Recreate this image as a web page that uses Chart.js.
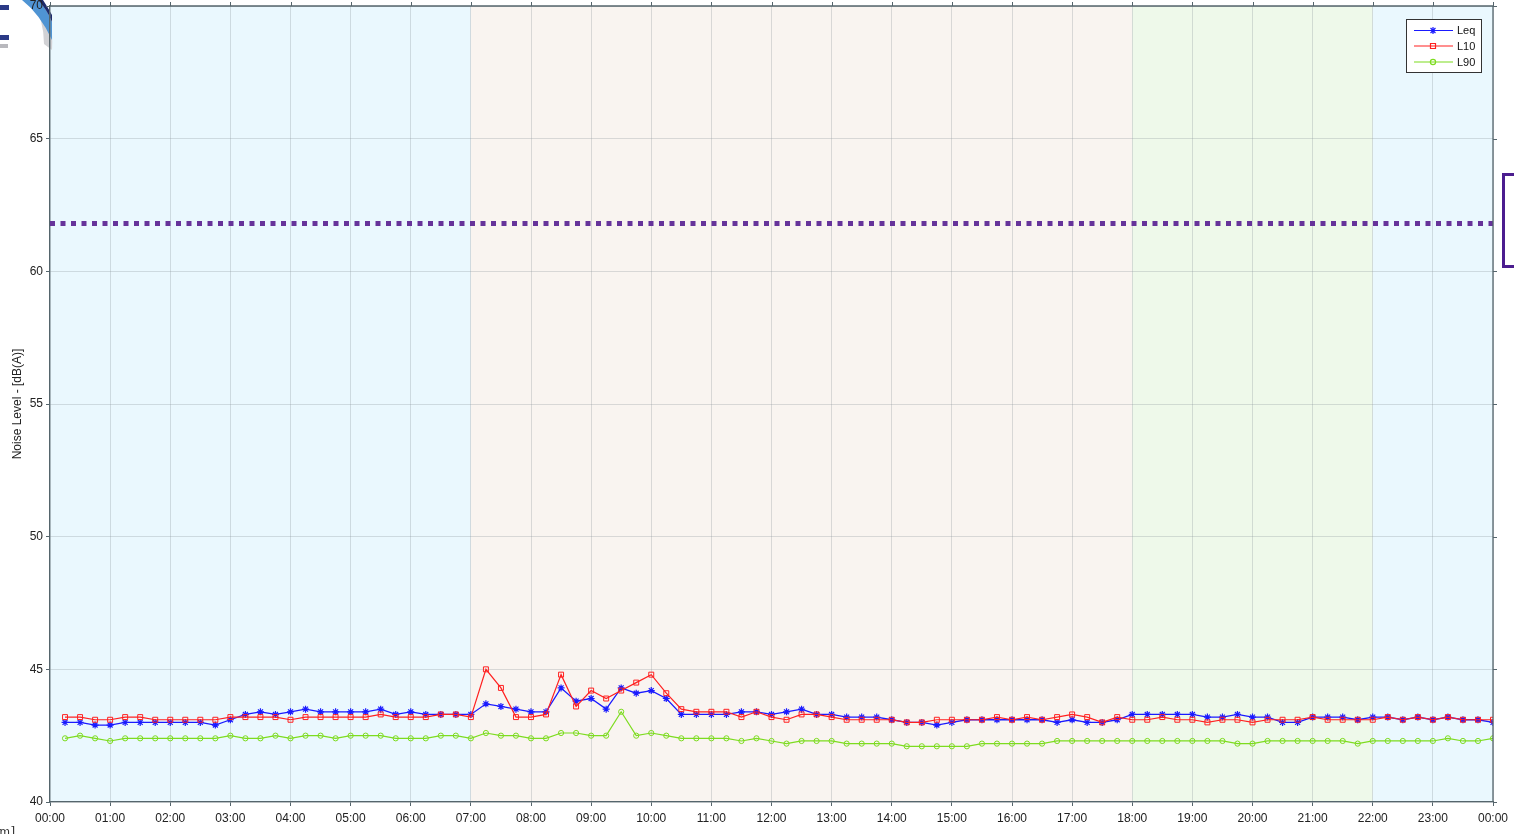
<!DOCTYPE html>
<html>
<head>
<meta charset="utf-8">
<script src="https://cdn.jsdelivr.net/npm/chart.js@4/dist/chart.umd.min.js"></script>
<style>
    html, body { margin: 0; padding: 0; background: #fff; }
    #wrap { width: 1514px; height: 834px; position: relative; }
    #noiseChart { display: block; width: 1514px; height: 834px; }
</style>
</head>
<body>
<div id="wrap"><canvas id="noiseChart" width="1514" height="834"></canvas></div>
<script>
// tick labels for the hour axis (0..24)
const hourLabels = ['00:00','01:00','02:00','03:00','04:00','05:00','06:00','07:00','08:00','09:00','10:00','11:00',
    '12:00','13:00','14:00','15:00','16:00','17:00','18:00','19:00','20:00','21:00','22:00','23:00','00:00'];

// 15 minute values, 00:15 .. 24:00
const leq = [43.0,43.0,42.9,42.9,43.0,43.0,43.0,43.0,43.0,43.0,42.9,43.1,43.3,43.4,43.3,43.4,
    43.5,43.4,43.4,43.4,43.4,43.5,43.3,43.4,43.3,43.3,43.3,43.3,43.7,43.6,43.5,43.4,
    43.4,44.3,43.8,43.9,43.5,44.3,44.1,44.2,43.9,43.3,43.3,43.3,43.3,43.4,43.4,43.3,
    43.4,43.5,43.3,43.3,43.2,43.2,43.2,43.1,43.0,43.0,42.9,43.0,43.1,43.1,43.1,43.1,
    43.1,43.1,43.0,43.1,43.0,43.0,43.1,43.3,43.3,43.3,43.3,43.3,43.2,43.2,43.3,43.2,
    43.2,43.0,43.0,43.2,43.2,43.2,43.1,43.2,43.2,43.1,43.2,43.1,43.2,43.1,43.1,43.0];

const l10 = [43.2,43.2,43.1,43.1,43.2,43.2,43.1,43.1,43.1,43.1,43.1,43.2,43.2,43.2,43.2,43.1,
    43.2,43.2,43.2,43.2,43.2,43.3,43.2,43.2,43.2,43.3,43.3,43.2,45.0,44.3,43.2,43.2,
    43.3,44.8,43.6,44.2,43.9,44.2,44.5,44.8,44.1,43.5,43.4,43.4,43.4,43.2,43.4,43.2,
    43.1,43.3,43.3,43.2,43.1,43.1,43.1,43.1,43.0,43.0,43.1,43.1,43.1,43.1,43.2,43.1,
    43.2,43.1,43.2,43.3,43.2,43.0,43.2,43.1,43.1,43.2,43.1,43.1,43.0,43.1,43.1,43.0,
    43.1,43.1,43.1,43.2,43.1,43.1,43.1,43.1,43.2,43.1,43.2,43.1,43.2,43.1,43.1,43.1];

const l90 = [42.4,42.5,42.4,42.3,42.4,42.4,42.4,42.4,42.4,42.4,42.4,42.5,42.4,42.4,42.5,42.4,
    42.5,42.5,42.4,42.5,42.5,42.5,42.4,42.4,42.4,42.5,42.5,42.4,42.6,42.5,42.5,42.4,
    42.4,42.6,42.6,42.5,42.5,43.4,42.5,42.6,42.5,42.4,42.4,42.4,42.4,42.3,42.4,42.3,
    42.2,42.3,42.3,42.3,42.2,42.2,42.2,42.2,42.1,42.1,42.1,42.1,42.1,42.2,42.2,42.2,
    42.2,42.2,42.3,42.3,42.3,42.3,42.3,42.3,42.3,42.3,42.3,42.3,42.3,42.3,42.2,42.2,
    42.3,42.3,42.3,42.3,42.3,42.3,42.2,42.3,42.3,42.3,42.3,42.3,42.4,42.3,42.3,42.4];

const limitLevel = 61.8;

// background periods [from hour, to hour, colour]
const periods = [
    [0, 7, '#eaf8fe'],
    [7, 18, '#f9f4f0'],
    [18, 22, '#eef9ea'],
    [22, 24, '#eaf8fe']
];

const yTicks = [40, 45, 50, 55, 60, 65, 70];

function toPoints(arr){
    return arr.map((v, i) => ({x: (i + 1) * 0.25, y: v}));
}

const axisColor = '#55656c';
const gridColor = 'rgba(140,150,155,0.3)';

// backgrounds, frame, legend and logo bits
const decorPlugin = {
    id: 'decor',
    beforeDraw(chart){
        const c = chart.ctx;
        const xs = chart.scales.x;
        const a = chart.chartArea;
        c.save();
        c.fillStyle = '#fff';
        c.fillRect(0, 0, chart.width, chart.height);
        periods.forEach(p => {
            const x1 = xs.getPixelForValue(p[0]);
            const x2 = xs.getPixelForValue(p[1]);
            c.fillStyle = p[2];
            c.fillRect(x1, a.top, x2 - x1, a.bottom - a.top);
        });

        // cut-off logo at top left
        c.fillStyle = '#d2d2d5';
        c.beginPath();
        c.moveTo(40, 0); c.quadraticCurveTo(54, 16, 52, 50); c.lineTo(44, 44);
        c.quadraticCurveTo(44, 20, 32, 0); c.closePath(); c.fill();
        c.fillStyle = '#4f94d3';
        c.beginPath();
        c.moveTo(22, 0); c.quadraticCurveTo(40, 14, 52, 40); c.lineTo(52, 22);
        c.quadraticCurveTo(46, 8, 38, 0); c.closePath(); c.fill();
        c.fillStyle = '#1d2a6b';
        c.beginPath();
        c.moveTo(38, 0); c.quadraticCurveTo(46, 8, 52, 22); c.lineTo(52, 15);
        c.quadraticCurveTo(47, 6, 43, 0); c.closePath(); c.fill();
        c.fillStyle = '#2b3a86';
        c.fillRect(0, 5, 9, 5);
        c.fillRect(0, 35, 9, 5);
        c.fillStyle = '#b8b8bd';
        c.fillRect(0, 44, 8, 4);
        c.restore();
    },
    afterDraw(chart){
        const c = chart.ctx;
        const a = chart.chartArea;
        const xs = chart.scales.x;
        const ys = chart.scales.y;
        c.save();

        // top and right frame with mirrored ticks
        c.strokeStyle = axisColor;
        c.lineWidth = 1.3;
        c.beginPath();
        c.moveTo(a.left, a.top); c.lineTo(a.right, a.top); c.lineTo(a.right, a.bottom);
        c.stroke();
        c.lineWidth = 1;
        c.beginPath();
        for (let h = 0; h <= 24; h++){
            const x = Math.round(xs.getPixelForValue(h)) + 0.5;
            c.moveTo(x, a.top); c.lineTo(x, a.top - 4);
        }
        yTicks.forEach(v => {
            const y = Math.round(ys.getPixelForValue(v)) + 0.5;
            c.moveTo(a.right, y); c.lineTo(a.right + 4, y);
        });
        c.stroke();

        // legend box
        const lx = 1406, ly = 19, lw = 75, lh = 53;
        c.fillStyle = '#fff';
        c.fillRect(lx, ly, lw, lh);
        c.strokeStyle = '#333';
        c.lineWidth = 1;
        c.strokeRect(lx + 0.5, ly + 0.5, lw, lh);
        const items = [
            ['Leq', '#1a1aff', 'star', 30.5],
            ['L10', '#ff2020', 'rect', 46],
            ['L90', '#7ddc1f', 'circle', 62]
        ];
        c.font = '11px "Liberation Sans", Arial, sans-serif';
        c.textBaseline = 'middle';
        items.forEach(it => {
            const y = it[3];
            c.strokeStyle = it[1];
            c.lineWidth = 1.2;
            c.beginPath();
            c.moveTo(1414, y); c.lineTo(1453, y);
            c.stroke();
            const mx = 1433;
            c.beginPath();
            if (it[2] === 'star'){
                const r = 3.5;
                c.moveTo(mx - r, y); c.lineTo(mx + r, y);
                c.moveTo(mx, y - r); c.lineTo(mx, y + r);
                const d = r * 0.707;
                c.moveTo(mx - d, y - d); c.lineTo(mx + d, y + d);
                c.moveTo(mx - d, y + d); c.lineTo(mx + d, y - d);
            } else if (it[2] === 'rect'){
                c.rect(mx - 2.5, y - 2.5, 5, 5);
            } else {
                c.arc(mx, y, 2.6, 0, Math.PI * 2);
            }
            c.stroke();
            c.fillStyle = '#111';
            c.fillText(it[0], 1457, y + 0.5);
        });

        // cut-off purple box at the right edge
        c.strokeStyle = '#4b1d8f';
        c.lineWidth = 3;
        c.strokeRect(1503.5, 174.5, 20, 92);

        // cut-off unit text at bottom left
        c.fillStyle = '#333';
        c.font = '12px "DejaVu Serif", serif';
        c.textBaseline = 'alphabetic';
        c.fillText('m]', -1, 836);
        c.restore();
    }
};

const ctx = document.getElementById('noiseChart').getContext('2d');

const chart = new Chart(ctx, {
    type: 'line',
    data: {
        datasets: [{
            label: 'Limit',
            data: [{x: 0, y: limitLevel}, {x: 24, y: limitLevel}],
            borderColor: '#66339a',
            borderWidth: 5,
            borderDash: [5, 5.5],
            pointRadius: 0,
            borderCapStyle: 'butt'
        }, {
            label: 'L90',
            data: toPoints(l90),
            borderColor: '#7ddc1f',
            borderWidth: 1.2,
            pointStyle: 'circle',
            pointRadius: 2.6,
            pointBorderWidth: 1,
            pointBorderColor: '#7ddc1f',
            pointBackgroundColor: 'rgba(0,0,0,0)'
        }, {
            label: 'L10',
            data: toPoints(l10),
            borderColor: '#ff2020',
            borderWidth: 1.2,
            pointStyle: 'rect',
            pointRadius: 3.5,
            pointBorderWidth: 1,
            pointBorderColor: '#ff2020',
            pointBackgroundColor: 'rgba(0,0,0,0)'
        }, {
            label: 'Leq',
            data: toPoints(leq),
            borderColor: '#1a1aff',
            borderWidth: 1.3,
            pointStyle: 'star',
            pointRadius: 3.5,
            pointBorderWidth: 1.2,
            pointBorderColor: '#1a1aff',
            pointBackgroundColor: '#1a1aff'
        }]
    },
    options: {
        responsive: false,
        maintainAspectRatio: false,
        animation: false,
        devicePixelRatio: 1,
        layout: { padding: { top: 0, right: 21, left: 0, bottom: 0 } },
        elements: { line: { tension: 0 } },
        plugins: {
            legend: { display: false },
            tooltip: { enabled: false }
        },
        scales: {
            x: {
                type: 'linear',
                min: 0,
                max: 24,
                afterFit(scale){ scale.height = 32; },
                ticks: {
                    stepSize: 1,
                    autoSkip: false,
                    maxRotation: 0,
                    padding: 5,
                    color: '#222',
                    font: { size: 12, family: '"Liberation Sans", Arial, sans-serif' },
                    callback: v => hourLabels[v]
                },
                grid: { color: gridColor, tickColor: axisColor, tickLength: 4 },
                border: { color: axisColor, width: 1.3 }
            },
            y: {
                min: 40,
                max: 70,
                afterFit(scale){
                    scale.width = 50;
                    scale.paddingTop = 6;
                },
                afterBuildTicks(scale){ scale.ticks = yTicks.map(v => ({value: v})); },
                ticks: {
                    padding: 3,
                    color: '#222',
                    font: { size: 12, family: '"Liberation Sans", Arial, sans-serif' }
                },
                grid: { color: gridColor, tickColor: axisColor, tickLength: 4 },
                border: { color: axisColor, width: 1.3 },
                title: {
                    display: true,
                    text: 'Noise Level - [dB(A)]',
                    color: '#222',
                    padding: { top: 10, bottom: 0 },
                    font: { size: 12, family: '"Liberation Sans", Arial, sans-serif' }
                }
            }
        }
    },
    plugins: [decorPlugin]
});
</script>
</body>
</html>
